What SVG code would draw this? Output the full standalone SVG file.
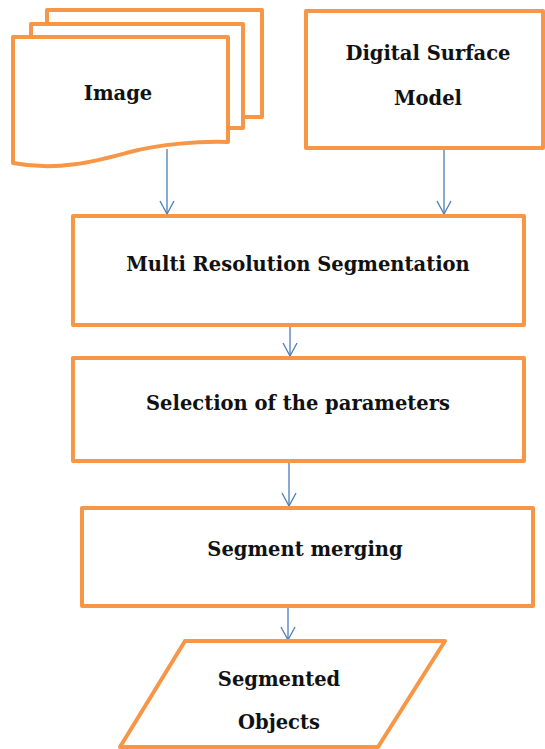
<svg xmlns="http://www.w3.org/2000/svg" width="545" height="749" viewBox="0 0 545 749">
  <style>
    .shape { fill: #ffffff; stroke: #F79646; stroke-width: 4; stroke-linejoin: round; }
    .edge { fill: none; stroke: #4A7EBB; stroke-width: 1.3; }
    .txt { fill: #111111; text-anchor: middle; }
  </style>
  <defs>
    <marker id="arrow" viewBox="0 0 16 16" refX="15" refY="8" markerWidth="16" markerHeight="16" markerUnits="userSpaceOnUse" orient="auto">
      <path d="M2,1 L15,8 L2,15" fill="none" stroke="#4A7EBB" stroke-width="1.3"/>
    </marker>
  </defs>
  <rect width="545" height="749" fill="#ffffff"/>

  <!-- connectors -->
  <g id="connectors">
    <line class="edge" x1="167" y1="149" x2="167" y2="214" marker-end="url(#arrow)"/>
    <line class="edge" x1="444" y1="149" x2="444" y2="214" marker-end="url(#arrow)"/>
    <line class="edge" x1="290" y1="326" x2="290" y2="356" marker-end="url(#arrow)"/>
    <line class="edge" x1="289" y1="462" x2="289" y2="506" marker-end="url(#arrow)"/>
    <line class="edge" x1="288" y1="607" x2="288" y2="640" marker-end="url(#arrow)"/>
  </g>

  <!-- multi-document input -->
  <g id="image">
    <path class="shape" d="M47,24 V10 H262 V117 H243"/>
    <path class="shape" d="M31,37 V24 H243 V128 H228"/>
    <path class="shape" d="M13,37 H228 V142 C200,141 160,144 130,152 C100,160 60,172 13,163 Z"/>
    <text class="txt" x="118" y="100" font-family="DejaVu Serif" font-weight="bold" font-size="19.5">Image</text>
  </g>

  <g id="dsm">
    <rect class="shape" x="306" y="11" width="237" height="137"/>
    <text class="txt" x="428" y="60" font-family="DejaVu Serif" font-weight="bold" font-size="19.5">Digital Surface</text>
    <text class="txt" x="428" y="105" font-family="DejaVu Serif" font-weight="bold" font-size="19.5">Model</text>
  </g>

  <g id="mrs">
    <rect class="shape" x="73" y="216" width="451" height="109"/>
    <text class="txt" x="298" y="271" font-family="DejaVu Serif" font-weight="bold" font-size="19.5">Multi Resolution Segmentation</text>
  </g>

  <g id="selection">
    <rect class="shape" x="73" y="358" width="451" height="103"/>
    <text class="txt" x="298" y="410" font-family="DejaVu Serif" font-weight="bold" font-size="19.5">Selection of the parameters</text>
  </g>

  <g id="merging">
    <rect class="shape" x="82" y="508" width="451" height="98"/>
    <text class="txt" x="305" y="556" font-family="DejaVu Serif" font-weight="bold" font-size="19.5">Segment merging</text>
  </g>

  <g id="objects">
    <path class="shape" d="M185,641 H445 L378,747 H120 Z"/>
    <text class="txt" x="279" y="686" font-family="DejaVu Serif" font-weight="bold" font-size="19.5">Segmented</text>
    <text class="txt" x="279" y="729" font-family="DejaVu Serif" font-weight="bold" font-size="19.5">Objects</text>
  </g>
</svg>
